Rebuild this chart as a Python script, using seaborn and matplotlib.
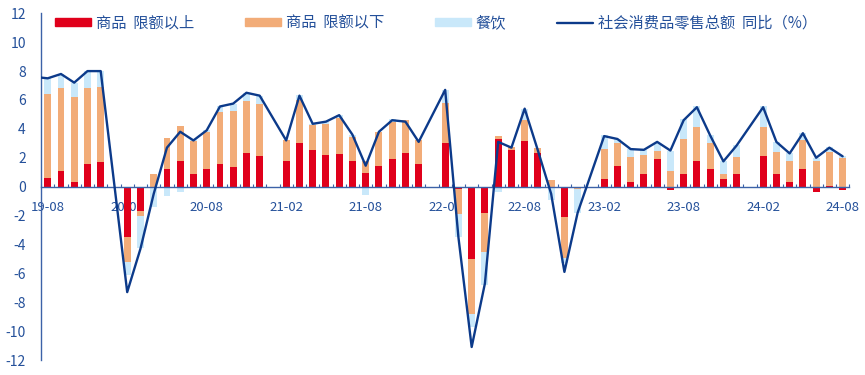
import numpy as np
import pandas as pd
import matplotlib
matplotlib.use("Agg")
import matplotlib.pyplot as plt
import seaborn as sns
from matplotlib.patches import Patch
from matplotlib.lines import Line2D

nan = np.nan

# monthly categories 19-08 .. 24-08 (January slots are empty: Jan-Feb reported together)
months = list(pd.period_range("2019-08", "2024-08", freq="M").strftime("%y-%m"))
tick_labels = ["19-08", "20-02", "20-08", "21-02", "21-08", "22-02",
               "22-08", "23-02", "23-08", "24-02", "24-08"]

# contribution of 商品 限额以上 (percentage points)
above_quota = [0.6, 1.1, 0.3, 1.6, 1.7, nan,
               -3.5, -1.7, 0.0, 1.25, 1.8, 0.9, 1.2, 1.55, 1.35, 2.35, 2.1, nan,
               1.75, 3.05, 2.55, 2.2, 2.25, 1.75, 0.95, 1.45, 1.9, 2.35, 1.55, nan,
               3.0, -0.15, -5.0, -1.85, 3.3, 2.55, 3.15, 2.35, 0.0, -2.1, -0.1, nan,
               0.5, 1.45, 0.3, 0.85, 1.9, -0.2, 0.85, 1.75, 1.2, 0.5, 0.85, nan,
               2.1, 0.9, 0.3, 1.2, -0.4, 0.02, -0.25]
# contribution of 商品 限额以下
below_quota = [5.8, 5.7, 5.9, 5.2, 5.2, nan,
               -1.7, -0.35, 0.9, 2.1, 2.4, 2.25, 2.6, 3.6, 3.9, 3.55, 3.65, nan,
               1.45, 2.95, 1.7, 2.15, 2.5, 1.7, 0.85, 2.35, 2.55, 2.25, 1.65, nan,
               2.8, -1.75, -3.8, -2.65, 0.2, 0.2, 1.45, 0.35, 0.45, -2.85, -0.05, nan,
               2.1, 1.55, 1.75, 1.35, 0.6, 1.05, 2.45, 2.4, 1.85, 0.35, 1.2, nan,
               2.05, 1.5, 1.5, 2.0, 1.75, 2.35, 1.95]
# contribution of 餐饮
catering = [1.1, 1.0, 1.0, 1.2, 1.1, nan,
            -0.9, -2.2, -1.4, -0.65, -0.4, 0.05, 0.1, 0.4, 0.5, 0.6, 0.55, nan,
            -0.1, 0.35, 0.1, 0.15, 0.2, 0.15, -0.55, 0.0, 0.2, -0.1, 0.0, nan,
            0.9, -1.6, -0.9, -2.3, -0.4, -0.05, 0.8, -0.15, -0.95, -0.35, -1.65, nan,
            0.95, 0.3, 0.55, 0.35, 0.55, 1.45, 1.35, 1.4, 0.5, 0.9, 0.8, nan,
            1.4, 0.7, 0.5, 0.5, 0.25, 0.35, 0.15]
# 社会消费品零售总额 同比 (%)
retail_yoy = [7.5, 7.8, 7.2, 8.0, 8.0, nan,
              -7.3, -4.3, -0.5, 2.7, 3.8, 3.2, 3.9, 5.55, 5.75, 6.5, 6.3, nan,
              3.2, 6.3, 4.35, 4.5, 4.95, 3.6, 1.45, 3.8, 4.6, 4.5, 3.1, nan,
              6.7, -3.5, -11.1, -6.7, 3.1, 2.7, 5.4, 2.5, -0.5, -5.9, -1.8, nan,
              3.5, 3.3, 2.6, 2.55, 3.1, 2.5, 4.6, 5.5, 3.55, 1.75, 2.85, nan,
              5.5, 3.1, 2.3, 3.7, 2.0, 2.7, 2.1]
retail_yoy_prev = 7.6   # 19-07, the line enters from the left edge

legend_labels = ["商品  限额以上", "商品  限额以下", "餐饮", "社会消费品零售总额  同比（%）"]

# ---------------------------------------------------------------- styling
sns.set_style("white")
plt.rcParams["font.family"] = ["Noto Sans CJK SC", "DejaVu Sans"]
plt.rcParams["axes.unicode_minus"] = False

RED = "#E0001B"
ORANGE = "#F2AC78"
LBLUE = "#C9E8FA"
NAVY = "#0C3A8A"
AXIS = "#3C62A8"
TEXT = "#24509A"

fig = plt.figure(figsize=(8.65, 3.75), dpi=100)
ax = fig.add_axes([0.0475, 0.04, 0.9343, 0.9245])

n = len(months)
x = np.arange(n)

# stacked bars (positives stack upward, negatives downward, like Excel)
pos_base = np.zeros(n)
neg_base = np.zeros(n)
for vals, color in [(above_quota, RED), (below_quota, ORANGE), (catering, LBLUE)]:
    v = np.nan_to_num(np.array(vals, dtype=float))
    bottom = np.where(v >= 0, pos_base, neg_base)
    ax.bar(x, v, width=0.52, bottom=bottom, color=color, linewidth=0, zorder=1)
    pos_base += np.clip(v, 0, None)
    neg_base += np.clip(v, None, 0)

# total line (gaps for January are bridged)
line_df = pd.DataFrame({"pos": np.concatenate([[-1], x]),
                        "val": np.concatenate([[retail_yoy_prev], retail_yoy])}).dropna()
sns.lineplot(data=line_df, x="pos", y="val", ax=ax, color=NAVY, linewidth=1.7,
             legend=False, zorder=3)

ax.set_xlim(-0.5, n - 0.5)
ax.set_ylim(-12, 12)
ax.set_xlabel("")
ax.set_ylabel("")

# spines
for s in ["top", "right"]:
    ax.spines[s].set_visible(False)
ax.spines["left"].set_color(AXIS)
ax.spines["left"].set_linewidth(1.0)
ax.spines["bottom"].set_position(("data", 0))
ax.spines["bottom"].set_color(AXIS)
ax.spines["bottom"].set_linewidth(1.0)
ax.spines["bottom"].set_zorder(2.5)

# y axis
ax.set_yticks(np.arange(-12, 13, 2))
ax.tick_params(axis="y", direction="in", length=3, width=1, color=AXIS,
               labelcolor=TEXT, labelsize=10, pad=11)

# x axis: labels at category centres, long ticks every 6 boundaries
label_pos = [months.index(m) for m in tick_labels]
ax.set_xticks(label_pos)
ax.set_xticklabels(tick_labels)
ax.set_xticks(np.arange(5.5, n, 6), minor=True)
ax.tick_params(axis="x", which="major", length=0, labelcolor=TEXT, labelsize=9.5, pad=10)
ax.tick_params(axis="x", which="minor", direction="inout", length=7, width=1, color=AXIS)

# small ticks at every category boundary
sec = ax.secondary_xaxis(0.5)
sec.set_xticks(np.arange(-0.5, n, 1.0))
sec.tick_params(axis="x", direction="in", length=2.5, width=0.8, color=AXIS,
                labelbottom=False, labeltop=False, top=False, bottom=True)
for sp in sec.spines.values():
    sp.set_visible(False)

# legend
handles = [Patch(color=RED), Patch(color=ORANGE), Patch(color=LBLUE),
           Line2D([], [], color=NAVY, linewidth=1.7)]
leg = ax.legend(handles, legend_labels, loc="upper left", bbox_to_anchor=(0.017, 0.997),
                ncol=4, frameon=False, fontsize=11, handlelength=2.4, handleheight=0.45,
                handletextpad=0.3, columnspacing=3.3, borderpad=0, borderaxespad=0)
for t in leg.get_texts():
    t.set_color(TEXT)

fig.savefig("out.png", dpi=100)
